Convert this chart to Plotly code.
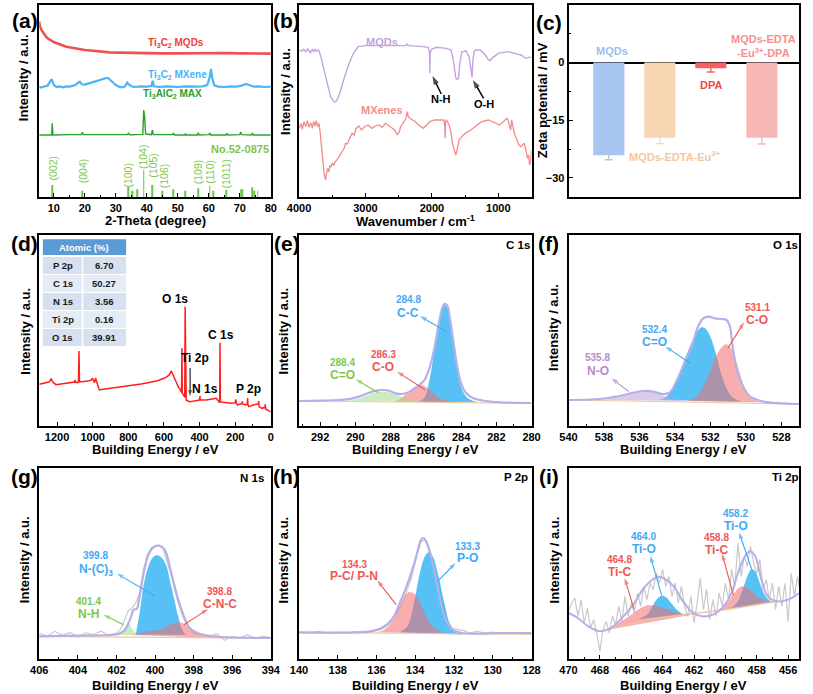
import plotly.graph_objects as go

FONT = "Liberation Sans, Arial, sans-serif"
W, H = 813, 694

# ================= DATA =================
# (a) XRD  (x: 2-theta, y: intensity a.u.)
xrd_mqds = [(5.3,635),(5.5,622),(6,610),(6.5,602),(7,595),(7.5,590),(8,585),(8.5,582),(9,579),(9.5,577),(10,574),(11,570),
            (12,566),(13,563),(14,560),(15,558),(16,556),(17,554),(18,552),(19,551),(20,550),(21,549),(23,547),(25,545),
            (28,543),(31,542),(35,541),(40,540),(45,540),(50,540),(55,541),(60,542),(65,541),(70,540),(75,540),(80,539)]
xrd_mxene = [(5.3,440),(6,437),(7,441),(8,443),(8.6,452),(9.0,460),(9.3,463),(9.7,452),(10.2,443),(11,439),(12,441),(13,438),
             (14,441),(15,440),(16,442),(17,445),(17.8,452),(18.4,455),(19,447),(20,446),(21,449),(22,452),(23,455),(24,458),
             (25,460),(26,463),(27,466),(27.5,466),(28,462),(29,455),(30,445),(31,440),(32,438),(33,441),(33.7,452),(34.3,446),
             (35,441),(36,439),(38,441),(40,440),(41.5,442),(41.9,458),(42.3,441),(44,439),(46,441),(48,440),(50,439),(52,441),
             (54,440),(56,440),(58,441),(59.5,445),(60.2,465),(60.7,493),(61.2,462),(61.8,444),(63,440),(65,439),(67,441),
             (69,440),(70.5,443),(72,448),(73,445),(74.5,440),(76,441),(78,439),(80,440)]
xrd_max = [(5.3,295),(9.3,295),(9.5,330),(9.7,295),(15,296),(18.9,296),(19.2,303),(19.5,296),(25,296),(30,295),(33.7,296),
           (34.1,300),(34.5,296),(38.7,297),(39.0,370),(39.3,350),(39.6,298),(41.5,296),(41.8,310),(42.1,296),(45,295),
           (48.3,296),(48.6,301),(48.9,295),(52.3,295),(52.5,299),(52.7,295),(56.3,295),(56.6,302),(56.9,295),(60,296),
           (60.3,301),(60.6,295),(65.5,295),(65.8,300),(66.1,295),(70,296),(70.3,304),(70.6,296),(73.8,295),(74.1,301),
           (74.4,295),(80,295)]
card_pos = [9.6, 19.3, 34.0, 35.2, 36.8, 39.0, 41.8, 45.0, 48.5, 52.4, 56.5, 60.3, 61.3, 65.6, 70.4, 70.9, 74.1, 74.7, 75.8]
card_top = [145, 128, 140, 128, 132, 190, 145, 128, 132, 128, 135, 143, 128, 130, 132, 132, 138, 128, 128]
card_floor = 109
card_labels = ['(002)', '(004)', '(100)', '(104)', '(105)', '(106)', '(109)', '(110)', '(1011)']
card_label_x = [9.8, 19.5, 33.8, 38.8, 42.0, 45.4, 56.6, 60.3, 65.7]
card_label_y = [195, 187, 175, 229, 203, 173, 184, 184, 181]

# (b) FTIR (x: wavenumber, y: a.u.)
ftir_mqds = [(3995,550),(3960,546),(3930,552),(3900,545),(3870,553),(3850,548),(3830,542),(3800,551),(3780,545),(3760,553),
             (3740,546),(3720,550),(3700,548),(3672,530),(3623,490),(3574,445),(3525,410),(3476,395),(3450,394),(3427,400),
             (3378,425),(3329,460),(3255,505),(3182,540),(3108,560),(3010,563),(2863,563),(2618,562),(2400,563),(2373,568),
             (2350,563),(2128,560),(2055,558),(2035,540),(2030,480),(2025,540),(2006,552),(1932,558),(1785,555),(1712,550),
             (1687,530),(1663,490),(1638,465),(1620,462),(1599,465),(1579,510),(1550,545),(1516,545),(1490,548),(1467,540),
             (1440,530),(1418,500),(1405,470),(1395,468),(1383,520),(1365,545),(1344,550),(1271,550),(1197,535),(1148,520),
             (1120,518),(1099,525),(1001,540),(900,543),(854,545),(756,540),(658,535),(585,525),(540,528),(500,528)]
ftir_mxene = [(3995,315),(3970,330),(3950,312),(3925,335),(3900,320),(3875,338),(3850,318),(3825,332),(3800,315),(3780,336),
              (3760,322),(3740,338),(3720,320),(3700,330),(3680,300),(3660,265),(3647,230),(3635,205),(3623,180),(3610,170),
              (3600,160),(3590,175),(3570,195),(3550,185),(3535,205),(3520,198),(3500,210),(3476,205),(3455,215),(3430,220),
              (3405,228),(3380,235),(3350,248),(3320,255),(3300,270),(3270,268),(3240,285),(3200,300),(3170,295),(3140,315),
              (3100,322),(3060,310),(3010,320),(2960,325),(2900,315),(2850,322),(2800,325),(2750,318),(2700,330),(2650,322),
              (2600,315),(2560,310),(2520,295),(2490,305),(2470,320),(2440,330),(2420,338),(2390,345),(2370,365),(2355,350),
              (2330,345),(2290,340),(2250,335),(2200,325),(2130,315),(2080,325),(2030,335),(1960,340),(1900,340),(1850,342),
              (1820,340),(1805,320),(1800,285),(1795,335),(1780,340),(1740,325),(1710,300),(1690,270),(1660,245),(1640,235),
              (1620,250),(1590,280),(1550,290),(1500,300),(1430,308),(1350,320),(1250,335),(1150,340),(1050,330),(980,325),
              (950,330),(900,340),(870,345),(854,340),(830,325),(815,310),(800,340),(790,330),(760,300),(720,280),(690,265),
              (660,260),(635,265),(610,270),(585,250),(560,225),(545,235),(530,205),(515,215),(500,250)]

# (c) zeta potential
zeta_cats = ['MQDs', 'MQDs-EDTA-Eu3+', 'DPA', 'MQDs-EDTA-Eu3+-DPA']
zeta_vals = [-24.1, -19.6, -1.45, -19.6]
zeta_errs = [1.2, 1.5, 1.0, 1.6]
zeta_colors = ['#a9c6f3', '#f8d5b3', '#f26262', '#f8b7b7']

# (d) XPS survey (x: binding energy eV)
survey = [(1300,207),(1285,209),(1270,210),(1255,212),(1246,214),(1238,218),(1233,224),(1228,218),(1220,212),(1206,206),
          (1190,207),(1169,209),(1140,211),(1114,213),(1102,214),(1099,220),(1095,213),(1086,212),(1080,214),(1077,307),
          (1074,215),(1060,215),(1040,216),(1020,218),(1007,220),(1002,226),(998,221),(989,212),(984,226),(980,218),
          (975,210),(971,205),(966,193),(963,190),(940,192),(912,194),(870,197),(820,200),(780,203),(728,208),(690,212),
          (637,218),(600,225),(582,230),(570,236),(563,241),(558,247),(553,240),(545,230),(535,215),(527,205),(518,198),
          (512,195),(505,185),(501,183),(499,315),(497,180),(490,175),(486,170),(483,168),(481,440),(479,162),(475,160),
          (462,156),(453,155),(430,157),(410,158),(400,160),(398,172),(396,160),(362,160),(330,162),(306,165),(298,160),
          (292,154),(287,152),(285,332),(283,155),(270,153),(251,152),(215,150),(200,152),(196,162),(193,150),(187,145),
          (162,150),(160,156),(158,148),(141,145),(132,148),(130,166),(128,145),(123,140),(100,145),(70,148),(68,157),
          (66,140),(50,135),(33,138),(31,147),(29,133),(13,128),(0,125)]
table_labels = ['P 2p', 'C 1s', 'N 1s', 'Ti 2p', 'O 1s']
table_values = ['6.70', '50.27', '3.56', '0.16', '39.91']

# (e) C 1s
c1s_env = [(293.2,157),(292.0,158),(291.0,160),(290.5,162),(290.0,167),(289.5,176),(289.0,186),(288.7,189),(288.4,190),
           (288.05,187),(287.7,180),(287.4,178),(287.1,181),(286.8,189),(286.5,200),(286.1,218),(285.8,255),(285.5,320),
           (285.3,380),(285.1,430),(284.95,448),(284.8,445),(284.65,410),(284.45,340),(284.25,270),(284.0,210),(283.7,180),
           (283.3,165),(282.6,157),(281.7,153),(280.0,151)]
c1s_cc = [(286.4,155),(286.1,165),(285.8,220),(285.5,315),(285.3,380),(285.1,428),(284.95,445),(284.8,438),(284.6,395),
          (284.4,320),(284.2,250),(284.0,200),(283.7,170),(283.3,157),(282.8,154)]
c1s_co = [(287.8,155),(287.4,165),(287.0,185),(286.6,200),(286.3,205),(286.0,200),(285.6,182),(285.2,165),(284.7,157),(284.2,154)]
c1s_c_eq_o = [(290.5,157),(290.0,162),(289.5,170),(289.0,180),(288.4,185),(287.8,180),(287.3,168),(286.8,160),(286.2,156)]
c1s_base = [(293.2,157),(280.0,150)]

# (f) O 1s
o1s_env = [(540.0,160),(538.2,163),(537.3,170),(536.3,182),(535.8,187),(535.2,185),(534.7,178),(534.3,182),(533.8,230),
           (533.4,280),(533.0,330),(532.7,380),(532.4,405),(532.1,410),(531.75,405),(531.4,403),(531.1,400),(530.9,380),
           (530.75,320),(530.5,250),(530.1,195),(529.75,170),(529.0,155),(527.0,148)]
o1s_c_eq_o = [(534.9,160),(534.5,170),(534.0,205),(533.6,260),(533.2,315),(532.8,360),(532.5,378),(532.3,375),(532.0,350),
              (531.7,300),(531.4,240),(531.0,185),(530.6,162),(530.2,155)]
o1s_co = [(533.3,157),(532.8,170),(532.4,200),(532.0,250),(531.6,300),(531.2,326),(531.0,325),(530.7,300),(530.4,250),
          (530.1,200),(529.8,170),(529.4,157),(529.0,153)]
o1s_no = [(538.0,160),(537.2,168),(536.5,178),(535.8,187),(535.2,183),(534.6,172),(534.0,162),(533.4,157)]
o1s_base = [(540.0,160),(527.0,148)]

# (g) N 1s
n1s_raw = [(406,150),(405.6,140),(405.2,155),(404.8,143),(404.4,152),(404.0,138),(403.6,150),(403.2,145),(402.8,156),
           (402.4,142),(402.0,150),(401.8,160),(401.6,185),(401.4,215),(401.2,225),(401.0,240),(400.8,270),(400.6,340),
           (400.4,385),(400.2,405),(400.0,412),(399.8,412),(399.6,405),(399.4,370),(399.2,330),(399.0,285),(398.8,240),
           (398.6,205),(398.4,180),(398.2,165),(398.0,150),(397.6,145),(397.2,140),(396.8,148),(396.4,128),(396.0,140),
           (395.6,135),(395.2,145),(394.8,133),(394.4,140),(394.0,136)]
n1s_env = [(406,140),(404.1,142),(402.4,144),(401.9,147),(401.55,160),(401.3,190),(401.1,220),(400.95,222),(400.8,260),
           (400.55,340),(400.3,390),(400.0,410),(399.8,412),(399.5,400),(399.2,340),(398.85,260),(398.5,200),(398.2,165),
           (397.66,147),(396.5,138),(394,135)]
n1s_nc3 = [(401.0,145),(400.8,210),(400.6,290),(400.4,340),(400.2,370),(400.0,382),(399.8,382),(399.6,372),(399.4,350),
           (399.2,300),(399.0,250),(398.8,200),(398.6,160),(398.4,145)]
n1s_cnc = [(401.5,145),(401.0,147),(400.4,155),(399.8,160),(399.2,175),(398.8,182),(398.4,175),(398.0,160),(397.5,145),
           (396.5,135),(395.5,132)]
n1s_nh = [(402.0,143),(401.7,155),(401.4,180),(401.15,160),(400.9,145)]
n1s_base = [(406,140),(394,134)]

# (h) P 2p
p2p_raw = [(140,152),(139.5,150),(139,155),(138.5,149),(138,153),(137.5,150),(137,154),(136.6,150),(136.2,158),(135.8,165),
           (135.4,180),(135.0,205),(134.6,250),(134.2,315),(133.9,385),(133.7,425),(133.5,430),(133.3,410),(133.1,370),
           (132.9,310),(132.7,250),(132.4,195),(132.1,165),(131.8,160),(131.5,158),(131.2,150),(130.8,155),(130.4,150),
           (130.0,153),(129.5,149),(129.0,152),(128.5,148),(128.0,150)]
p2p_env = [(140,152),(137.1,152),(136.3,155),(135.8,162),(135.45,175),(135.1,200),(134.8,240),(134.45,290),(134.1,350),
           (133.86,400),(133.7,430),(133.57,435),(133.44,425),(133.19,380),(132.93,310),(132.68,240),(132.43,190),
           (132.09,160),(131.59,150),(129.57,150),(128,150)]
p2p_pc = [(136.0,152),(135.6,160),(135.2,185),(134.8,230),(134.5,265),(134.3,273),(134.0,265),(133.7,235),(133.4,195),
          (133.0,165),(132.6,152),(132.2,148)]
p2p_po = [(134.8,152),(134.4,170),(134.1,230),(133.8,320),(133.5,380),(133.3,392),(133.1,380),(132.8,320),(132.5,240),
          (132.2,175),(131.9,152),(131.5,145)]
p2p_base = [(140,152),(128,146)]

# (i) Ti 2p
ti_raw = [(470.0,215),(469.8,240),(469.6,255),(469.4,200),(469.2,250),(469.0,180),(468.8,225),(468.6,165),(468.4,190),
          (468.2,150),(468.0,95),(467.8,160),(467.6,185),(467.4,150),(467.2,200),(467.0,175),(466.8,230),(466.6,185),
          (466.4,260),(466.2,200),(466.0,240),(465.8,210),(465.6,270),(465.4,230),(465.2,290),(465.0,250),(464.8,300),
          (464.6,280),(464.4,330),(464.2,300),(464.0,340),(463.8,290),(463.6,320),(463.4,260),(463.2,300),(463.0,240),
          (462.8,290),(462.6,230),(462.4,200),(462.2,260),(462.0,180),(461.8,240),(461.6,315),(461.4,220),(461.2,280),
          (461.0,190),(460.8,250),(460.6,200),(460.4,270),(460.2,230),(460.0,300),(459.8,250),(459.6,340),(459.4,290),
          (459.2,420),(459.0,320),(458.8,380),(458.6,350),(458.4,410),(458.2,360),(458.0,330),(457.8,370),(457.6,280),
          (457.4,310),(457.2,250),(457.0,300),(456.8,220),(456.6,290),(456.4,230),(456.2,300),(456.0,185),(455.8,330),
          (455.6,260),(455.4,320),(455.3,290)]
ti_env = [(470.0,210),(469.4,195),(468.75,170),(468.0,155),(467.3,165),(466.5,200),(465.8,240),(465.2,285),(464.6,312),
          (464.3,319),(463.96,315),(463.3,290),(462.7,245),(462.1,212),(461.5,200),(460.8,205),(460.2,225),(459.6,270),
          (459.2,330),(458.75,380),(458.44,395),(458.1,380),(457.7,310),(457.3,260),(456.7,245),(456.0,250),(455.6,260),
          (455.3,270)]
ti_c_high = [(468.0,155),(467.0,175),(466.0,205),(465.4,225),(464.9,233),(464.3,230),(463.6,220),(463.0,210),(462.4,206),(461.8,208)]
ti_o_high = [(465.6,191),(465.0,205),(464.6,235),(464.3,255),(464.06,262),(463.8,258),(463.5,242),(463.1,220),(462.7,207),(462.2,207)]
ti_c_low = [(461.0,213),(460.3,222),(459.8,245),(459.4,272),(458.96,290),(458.5,282),(458.0,262),(457.5,248),(457.0,243),(456.6,245)]
ti_o_low = [(459.6,224),(459.2,245),(458.9,280),(458.6,320),(458.33,342),(458.1,335),(457.8,300),(457.5,265),(457.2,248),
            (456.9,243),(456.6,245)]
ti_base = [(468.0,155),(467,167),(466,178),(465,188),(464,197),(463,203),(462,208),(461,213),(460,220),(459,227),(458,235),
           (457,243),(456.7,245)]

# ================= LAYOUT HELPERS =================
COLS = [(28, 266), (295, 534), (572, 809)]
ROWS = [(5, 197), (235, 426), (468, 659)]
XRANGES = [[5.3, 80], [4000, 500], [-0.79, 3.73], [1300, 0], [293.2, 280], [540, 527], [406, 394], [140, 128], [470, 455.3]]
YRANGES = [[109, 685], [109, 685], [-35, 15], [82, 655], [82, 655], [82, 655], [72, 645], [72, 645], [72, 645]]
DTICK = [10, 1000, None, 200, 2, 2, 2, 2, 2]

def px(x):
    return x / W

def py(y):
    return 1 - y / H

def refs(n):
    return ('x' if n == 1 else f'x{n}', 'y' if n == 1 else f'y{n}')

def xy(pairs):
    return [p[0] for p in pairs], [p[1] for p in pairs]

fig = go.Figure()

def line(n, pairs, color, width=1.5, spline=False):
    xr, yr = refs(n)
    x, y = xy(pairs)
    fig.add_trace(go.Scatter(x=x, y=y, xaxis=xr, yaxis=yr, mode='lines', showlegend=False, hoverinfo='skip',
                             line=dict(color=color, width=width, shape='spline' if spline else 'linear',
                                       smoothing=1.0 if spline else None)))

def area(n, pairs, fillcolor):
    xr, yr = refs(n)
    x, y = xy(pairs)
    fig.add_trace(go.Scatter(x=x, y=y, xaxis=xr, yaxis=yr, mode='lines', fill='toself', fillcolor=fillcolor,
                             line=dict(width=0, shape='spline', smoothing=1.0), showlegend=False, hoverinfo='skip'))

annotations = []
shapes = []

def text(n, x, y, s, color, size=11, bold=True, **kw):
    xr, yr = refs(n)
    d = dict(xref=xr, yref=yr, x=x, y=y, text=s, showarrow=False, borderpad=0,
             font=dict(family=FONT, size=size, color=color, weight='bold' if bold else 'normal'))
    d.update(kw)
    annotations.append(d)

def arrow(n, hx, hy, tx, ty, color, width=1.1, head=7):
    # line from tail (tx,ty) to head (hx,hy) with an arrow marker oriented along the segment
    xr, yr = refs(n)
    fig.add_trace(go.Scatter(x=[tx, hx], y=[ty, hy], xaxis=xr, yaxis=yr, mode='lines+markers', showlegend=False,
                             hoverinfo='skip', line=dict(color=color, width=width),
                             marker=dict(symbol='arrow', size=[0, head], angleref='previous', color=color,
                                         line=dict(width=0))))

def ptext(x, y, s, size, color='black', angle=0, bold=True):
    annotations.append(dict(xref='paper', yref='paper', x=px(x), y=py(y), text=s, showarrow=False, textangle=angle,
                            xanchor='center', yanchor='middle', borderpad=0,
                            font=dict(family=FONT, size=size, color=color, weight='bold' if bold else 'normal')))

BLUE_T, RED_T, GREEN_T, PURP_T = '#3fa9f5', '#f25555', '#7cc84a', '#b58ccc'
BLUE_F = 'rgba(78,190,246,0.95)'
RED_F = 'rgba(242,108,108,0.55)'
GREEN_F = 'rgba(160,220,140,0.55)'
PURP_F = 'rgba(196,166,220,0.6)'
ENV = '#b5b0e8'
RAW = '#c9c9c9'
BASE = 'rgba(240,196,150,0.9)'

# ================= PANEL (a) =================
xc, yc = refs(1)
fig.add_trace(go.Bar(x=card_pos, y=[t - card_floor for t in card_top], base=card_floor, width=0.28,
                     marker=dict(color='#6cc24a', line=dict(width=0)), xaxis=xc, yaxis=yc, showlegend=False,
                     hoverinfo='skip'))
line(1, xrd_max, '#2ca02c', 1.4)
line(1, xrd_mxene, '#4db3f5', 2.2)
line(1, xrd_mqds, '#f05050', 2.6)
for lab, lx, ly in zip(card_labels, card_label_x, card_label_y):
    text(1, lx, ly, lab, '#7cc84a', size=10.5, bold=False, textangle=-90)
text(1, 49.4, 572, 'Ti<sub>3</sub>C<sub>2</sub> MQDs', '#f04040', 10)
text(1, 49.8, 476, 'Ti<sub>3</sub>C<sub>2</sub> MXene', '#4db3f5', 10)
text(1, 48.3, 417, 'Ti<sub>3</sub>AlC<sub>2</sub> MAX', '#2ca02c', 10)
text(1, 70.1, 252, 'No.52-0875', '#7cc84a', 11)

# ================= PANEL (b) =================
line(2, ftir_mxene, '#f58a8a', 1.3)
line(2, ftir_mqds, '#c4a3e0', 1.4)
text(2, 2755, 575, 'MQDs', '#c4a3e0', 11)
text(2, 2755, 370, 'MXenes', '#f58a8a', 11)
text(2, 1859, 402, 'N-H', 'black', 11)
text(2, 1222, 388, 'O-H', 'black', 11)
arrow(2, 1991, 472, 1859, 418, 'black', 1.5, 9)
arrow(2, 1383, 460, 1222, 405, 'black', 1.5, 9)

# ================= PANEL (c) =================
xc, yc = refs(3)
for cat, v, e, c in zip(zeta_cats, zeta_vals, zeta_errs, zeta_colors):
    fig.add_trace(go.Bar(x=[cat], y=[v], width=0.61, xaxis=xc, yaxis=yc, showlegend=False, hoverinfo='skip',
                         marker=dict(color=c, line=dict(width=0)),
                         error_y=dict(type='data', array=[e], color=c, thickness=1.3, width=4)))
text(3, 0.055, 2.9, 'MQDs', '#9ebff0', 11)
text(3, 1.3, -24.4, 'MQDs-EDTA-Eu<sup>3+</sup>', '#f5c79c', 11)
text(3, 2.0, -5.8, 'DPA', '#f04848', 11)
text(3, 3.03, 4.4, 'MQDs-EDTA<br>-Eu<sup>3+</sup>-DPA', '#f59090', 11)

# ================= PANEL (d) =================
line(4, survey, '#ff1e1e', 1.5)
text(4, 536, 463, 'O 1s', 'black', 12)
text(4, 279, 355, 'C 1s', 'black', 12)
text(4, 426, 287, 'Ti 2p', 'black', 12)
text(4, 371, 192, 'N 1s', 'black', 12)
text(4, 127, 192, 'P 2p', 'black', 12)
arrow(4, 453, 172, 453, 256, 'black', 1.0, 6)
# atomic table
tbl_x0, tbl_xm, tbl_x1 = 31.7, 72.5, 117.3
shapes.append(dict(type='rect', xref='paper', yref='paper', x0=px(tbl_x0), x1=px(tbl_x1), y0=py(255), y1=py(239.3),
                   fillcolor='#5b9bd5', line=dict(width=0), layer='above'))
ptext((tbl_x0 + tbl_x1) / 2, 247.2, 'Atomic (%)', 9.5, 'white')
row_tops = [257.0, 275.0, 293.0, 311.0, 329.0]
for i, (lab, val) in enumerate(zip(table_labels, table_values)):
    t = row_tops[i]
    fc = '#d6e0ef' if i % 2 == 0 else '#e6ecf6'
    shapes.append(dict(type='rect', xref='paper', yref='paper', x0=px(tbl_x0), x1=px(tbl_xm - 0.8), y0=py(t + 17),
                       y1=py(t), fillcolor=fc, line=dict(width=0), layer='above'))
    shapes.append(dict(type='rect', xref='paper', yref='paper', x0=px(tbl_xm + 0.8), x1=px(tbl_x1), y0=py(t + 17),
                       y1=py(t), fillcolor=fc, line=dict(width=0), layer='above'))
    ptext((tbl_x0 + tbl_xm) / 2, t + 8.8, lab, 9.5, '#1a1a1a')
    ptext((tbl_xm + tbl_x1) / 2, t + 8.8, val, 9.5, '#1a1a1a')

# ================= PANEL (e) =================
area(5, c1s_cc, BLUE_F)
area(5, c1s_co, RED_F)
area(5, c1s_c_eq_o, GREEN_F)
line(5, c1s_base, BASE, 1.2)
line(5, c1s_env, ENV, 2.2, spline=True)
text(5, 287.0, 462, '284.8', BLUE_T, 10)
text(5, 287.0, 422, 'C-C', BLUE_T, 12)
arrow(5, 286.34, 412, 284.83, 365, BLUE_T)
text(5, 288.42, 297, '286.3', RED_T, 10)
text(5, 288.42, 258, 'C-O', RED_T, 12)
arrow(5, 287.63, 245, 286.03, 190, RED_T)
text(5, 290.72, 274, '288.4', GREEN_T, 10)
text(5, 290.72, 235, 'C=O', GREEN_T, 12)
arrow(5, 289.98, 222, 288.7, 182, GREEN_T)
text(5, 280.75, 625, 'C 1s', 'black', 11.5)

# ================= PANEL (f) =================
area(6, o1s_c_eq_o, BLUE_F)
area(6, o1s_co, RED_F)
area(6, o1s_no, PURP_F)
line(6, o1s_base, BASE, 1.2)
line(6, o1s_env, ENV, 2.2, spline=True)
text(6, 535.14, 372, '532.4', BLUE_T, 10)
text(6, 535.14, 333, 'C=O', BLUE_T, 12)
arrow(6, 534.54, 320, 533.13, 270, BLUE_T)
text(6, 529.37, 437, '531.1', RED_T, 10)
text(6, 529.37, 400, 'C-O', RED_T, 12)
arrow(6, 530.1, 393, 531.02, 315, RED_T)
text(6, 538.35, 287, '535.8', PURP_T, 10)
text(6, 538.35, 248, 'N-O', PURP_T, 12)
arrow(6, 537.58, 225, 536.6, 185, PURP_T)
text(6, 527.75, 625, 'O 1s', 'black', 11.5)

# ================= PANEL (g) =================
line(7, n1s_raw, RAW, 1.2)
area(7, n1s_nc3, BLUE_F)
area(7, n1s_cnc, RED_F)
area(7, n1s_nh, GREEN_F)
line(7, n1s_base, BASE, 1.2)
line(7, n1s_env, ENV, 2.2, spline=True)
text(7, 403.06, 382, '399.8', BLUE_T, 10)
text(7, 403.06, 340, 'N-(C)<sub>3</sub>', BLUE_T, 12)
arrow(7, 401.97, 328, 400.03, 262, BLUE_T)
text(7, 403.43, 244, '401.4', GREEN_T, 10)
text(7, 403.43, 208, 'N-H', GREEN_T, 12)
arrow(7, 402.67, 205, 401.63, 175, GREEN_T)
text(7, 396.65, 274, '398.8', RED_T, 10)
text(7, 396.65, 238, 'C-N-C', RED_T, 12)
arrow(7, 397.24, 222, 398.5, 175, RED_T)
text(7, 394.96, 615, 'N 1s', 'black', 11.5)

# ================= PANEL (h) =================
line(8, p2p_raw, RAW, 1.2)
area(8, p2p_po, BLUE_F)
area(8, p2p_pc, RED_F)
line(8, p2p_base, BASE, 1.2)
line(8, p2p_env, ENV, 2.2, spline=True)
text(8, 131.28, 411, '133.3', BLUE_T, 10)
text(8, 131.28, 374, 'P-O', BLUE_T, 12)
arrow(8, 131.92, 360, 132.85, 305, BLUE_T)
text(8, 137.14, 357, '134.3', RED_T, 10)
text(8, 137.14, 321, 'P-C/ P-N', RED_T, 12)
arrow(8, 135.96, 308, 134.99, 235, RED_T)
text(8, 128.8, 618, 'P 2p', 'black', 11.5)

# ================= PANEL (i) =================
line(9, ti_raw, RAW, 1.2)
area(9, ti_o_high, BLUE_F)
area(9, ti_o_low, BLUE_F)
area(9, ti_c_high, RED_F)
area(9, ti_c_low, RED_F)
line(9, ti_base, BASE, 1.5)
line(9, ti_env, ENV, 2.0, spline=True)
text(9, 465.21, 440, '464.0', BLUE_T, 10)
text(9, 465.21, 402, 'Ti-O', BLUE_T, 12)
arrow(9, 464.79, 382, 464.06, 262, BLUE_T)
text(9, 466.77, 370, '464.8', RED_T, 10)
text(9, 466.77, 332, 'Ti-C', RED_T, 12)
arrow(9, 466.42, 315, 465.83, 222, RED_T)
text(9, 459.33, 510, '458.2', BLUE_T, 10)
text(9, 459.33, 470, 'Ti-O', BLUE_T, 12)
arrow(9, 459.13, 452, 458.33, 342, BLUE_T)
text(9, 460.58, 437, '458.8', RED_T, 10)
text(9, 460.58, 400, 'Ti-C', RED_T, 12)
arrow(9, 460.21, 388, 459.48, 262, RED_T)
text(9, 456.15, 618, 'Ti 2p', 'black', 11.5)

# ================= AXES =================
layout_axes = {}
for n in range(1, 10):
    col = (n - 1) % 3
    row = (n - 1) // 3
    x0, x1 = COLS[col]
    y0, y1 = ROWS[row]
    xr, yr = refs(n)
    xkey = 'xaxis' if n == 1 else f'xaxis{n}'
    ykey = 'yaxis' if n == 1 else f'yaxis{n}'
    xa = dict(domain=[px(x0), px(x1)], range=XRANGES[n - 1], anchor=yr, showline=True, linecolor='black',
              linewidth=1.7, mirror=True, showgrid=False, zeroline=False, ticks='inside', ticklen=4.5, tickwidth=1.3,
              tickcolor='black', tickfont=dict(family=FONT, size=11, color='black', weight='bold'))
    if n == 3:
        xa.update(type='category', ticks='', showticklabels=False)
    else:
        xa.update(dtick=DTICK[n - 1], tick0=0,
                  minor=dict(dtick=DTICK[n - 1] / 2, ticks='inside', ticklen=2.5, tickwidth=1, tickcolor='black'))
    ya = dict(domain=[py(y1), py(y0)], range=YRANGES[n - 1], anchor=xr, showline=True, linecolor='black',
              linewidth=1.7, mirror=True, showgrid=False, zeroline=False, ticks='', showticklabels=False)
    if n == 3:
        ya.update(ticks='inside', showticklabels=True, dtick=15, tick0=0, ticklen=4.5, tickwidth=1.3,
                  tickcolor='black', tickfont=dict(family=FONT, size=11, color='black', weight='bold'),
                  zeroline=True, zerolinecolor='black', zerolinewidth=1.5,
                  minor=dict(dtick=7.5, ticks='inside', ticklen=2.5, tickwidth=1, tickcolor='black'))
    layout_axes[xkey] = xa
    layout_axes[ykey] = ya

# axis titles & panel letters
TS = 13
ptext(147, 221, '2-Theta (degree)', TS)
ptext(414.5, 221, 'Wavenumber / cm<sup>-1</sup>', TS)
for cx in (147, 414.5, 690.5):
    ptext(cx, 449, 'Building Energy / eV', TS)
    ptext(cx, 685, 'Building Energy / eV', TS)
ptext(12.5, 78, 'Intensity / a.u.', TS, angle=-90)
ptext(281.5, 91, 'Intensity / a.u.', TS, angle=-90)
ptext(546, 100, 'Zeta potential / mV', TS, angle=-90)
for (ix, iy) in [(13, 331), (279, 331), (557, 327), (12.5, 560), (279, 560), (557.5, 560)]:
    ptext(ix, iy, 'Intensity / a.u.', TS, angle=-90)
for s, lx, ly in [('(a)', 13, 21), ('(b)', 282, 21), ('(c)', 551.5, 22), ('(d)', 13, 244), ('(e)', 282.5, 244),
                  ('(f)', 551.5, 244), ('(g)', 13, 477), ('(h)', 282, 477), ('(i)', 552, 477)]:
    ptext(lx, ly, s, 21)

fig.update_layout(width=W, height=H, margin=dict(l=0, r=0, t=0, b=0), paper_bgcolor='white', plot_bgcolor='white',
                  showlegend=False, barmode='overlay', annotations=annotations, shapes=shapes,
                  font=dict(family=FONT, color='black'), **layout_axes)

fig.write_html("out.html", config={'displayModeBar': False},
               post_script="document.body.style.margin='0px';document.body.style.overflow='hidden';")
